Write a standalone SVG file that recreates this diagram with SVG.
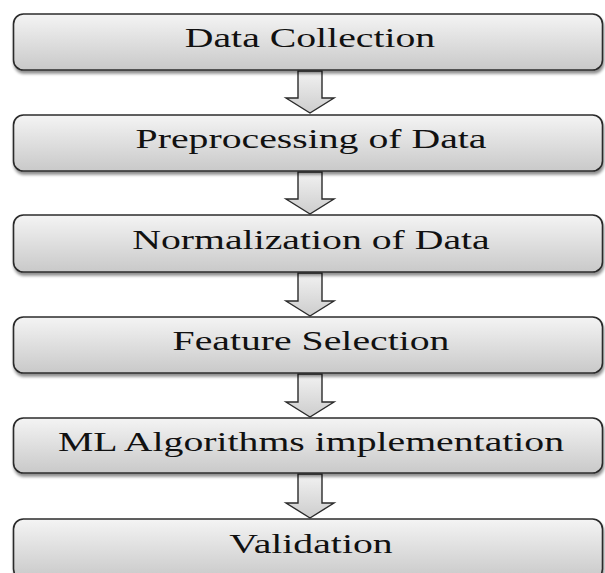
<svg xmlns="http://www.w3.org/2000/svg" width="605" height="573" viewBox="0 0 605 573">
<defs>
<linearGradient id="g" x1="0" y1="0" x2="0" y2="1">
<stop offset="0" stop-color="#f4f4f4"/>
<stop offset="1" stop-color="#c9c9c9"/>
</linearGradient>
<linearGradient id="ga" x1="0" y1="0" x2="0" y2="1">
<stop offset="0" stop-color="#f2f2f2"/>
<stop offset="1" stop-color="#cdcdcd"/>
</linearGradient>
<filter id="sh" x="-5%" y="-20%" width="110%" height="150%">
<feGaussianBlur in="SourceAlpha" stdDeviation="1.5"/>
<feOffset dx="1" dy="2.5" result="b"/>
<feComponentTransfer><feFuncA type="linear" slope="0.45"/></feComponentTransfer>
<feMerge><feMergeNode/><feMergeNode in="SourceGraphic"/></feMerge>
</filter>
</defs>
<style>
.box{fill:url(#g);stroke:#2b2b2b;stroke-width:1.6;filter:url(#sh)}
.arr{fill:url(#ga);stroke:#2b2b2b;stroke-width:1.4;stroke-linejoin:miter}
.lbl{font-family:"Liberation Serif","Times New Roman",serif;font-size:26.5px;fill:#111;text-anchor:middle}
</style>
<rect width="605" height="573" fill="#fff"/>
<g id="connectors">
<path class="arr" d="M298,71 V98 H286 L310,113 L334,98 H322 V71 Z"/>
<path class="arr" d="M298,172 V199 H286 L310,214 L334,199 H322 V172 Z"/>
<path class="arr" d="M298,273 V301 H286 L310,316 L334,301 H322 V273 Z"/>
<path class="arr" d="M298,374 V402 H286 L310,417 L334,402 H322 V374 Z"/>
<path class="arr" d="M298,474 V503 H286 L310,518 L334,503 H322 V474 Z"/>
</g>
<g id="n1"><rect class="box" x="13.5" y="14" width="589" height="56" rx="10"/><text class="lbl" transform="translate(310,47) scale(1.5,1)">Data Collection</text></g>
<g id="n2"><rect class="box" x="13.5" y="115" width="589" height="56" rx="10"/><text class="lbl" transform="translate(311,148) scale(1.5,1)">Preprocessing of Data</text></g>
<g id="n3"><rect class="box" x="13.5" y="215" width="589" height="57" rx="10"/><text class="lbl" transform="translate(311,249) scale(1.5,1)">Normalization of Data</text></g>
<g id="n4"><rect class="box" x="13.5" y="317" width="589" height="56" rx="10"/><text class="lbl" transform="translate(311,350) scale(1.5,1)">Feature Selection</text></g>
<g id="n5"><rect class="box" x="13.5" y="418" width="589" height="55" rx="10"/><text class="lbl" transform="translate(311,451) scale(1.5,1)">ML Algorithms implementation</text></g>
<g id="n6"><rect class="box" x="13.5" y="519" width="589" height="60" rx="10"/><text class="lbl" transform="translate(311,553) scale(1.5,1)">Validation</text></g>
</svg>
